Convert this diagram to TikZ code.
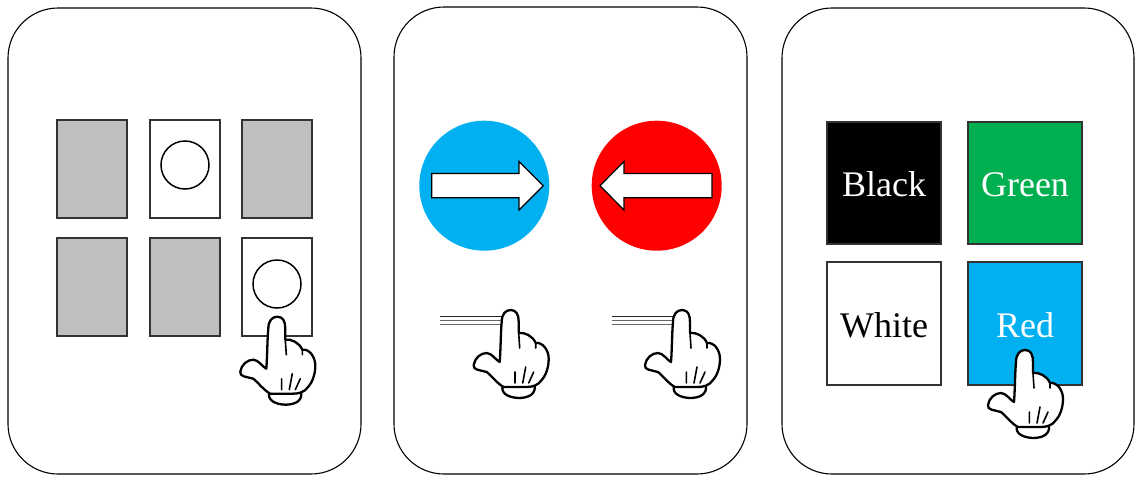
\documentclass[tikz,border=0pt]{standalone}
\usepackage{fontspec}
\setmainfont{Liberation Serif}
\definecolor{cardgray}{HTML}{BFBFBF}
\definecolor{skyb}{HTML}{00B0F0}
\definecolor{grn}{HTML}{00B050}
\tikzset{
  panel/.style={draw=black,line width=1.1pt,rounded corners=50pt,fill=white},
  cardbox/.style={draw=black!80,line width=1.2pt},
  bigdisc/.style={circle,minimum size=130pt,inner sep=0pt,fill=#1},
  ring/.style={draw=black,line width=1.5pt,fill=white,circle,minimum size=48pt,inner sep=0pt},
  blockarrow/.style={draw=black,line width=1.2pt,fill=white,line join=miter},
  swipeline/.style={draw=black!60,line width=1pt},
  word/.style={font=\fontsize{36}{38}\selectfont,text=#1,inner sep=0pt,anchor=base},
  hand/.pic={
    \path[fill=white,draw=black,line width=2.3pt,line join=round,line cap=round]
      (-9,76) .. controls (-11,83) and (-4,87.5) .. (7,88) .. controls (17,88) and (24,84) .. (23,76) -- cycle;
    \path[fill=white,draw=black,line width=2.3pt,line join=round,line cap=round]
      (-10,12) .. controls (-10,4) and (-6,0) .. (-1,0)
      .. controls (5,0) and (7,5) .. (7,12)
      -- (7,23)
      .. controls (13,22) and (21,26) .. (24,33)
      .. controls (31,32) and (37,40) .. (37,49)
      .. controls (37,59) and (33,67) .. (30,70)
      .. controls (26,76) and (20,77) .. (14,77)
      -- (-8,77)
      .. controls (-14,74) and (-20,66) .. (-25,62)
      .. controls (-32,60) and (-39,60) .. (-38,55)
      .. controls (-37,48) and (-31,43) .. (-25,43)
      .. controls (-20,43) and (-16,50) .. (-12,52)
      .. controls (-11,40) and (-11,22) .. (-10,12) -- cycle;
    \path[draw=black,line width=1.6pt,line cap=round]
      (7,23) -- (8,38) (24,33) -- (24,38)
      (3.3,62) -- (3.3,73) (14,57) -- (11,73) (22,62) -- (17,73);
  },
}
\begin{document}
\begin{tikzpicture}[x=1pt,y=-1pt]
\useasboundingbox (0,0) rectangle (1136,477);
% panels
\node[panel,minimum width=353pt,minimum height=466pt,inner sep=0pt] (p1) at (184.5,241) {};
\node[panel,minimum width=353pt,minimum height=467pt,inner sep=0pt] (p2) at (570.5,240.5) {};
\node[panel,minimum width=352pt,minimum height=466pt,inner sep=0pt] (p3) at (958,241) {};
% cards
\node[cardbox,fill=cardgray,minimum width=70pt,minimum height=98pt,inner sep=0pt] (c1) at (92,169) {};
\node[cardbox,fill=white,minimum width=70pt,minimum height=98pt,inner sep=0pt] (c2) at (185,169) {};
\node[cardbox,fill=cardgray,minimum width=70pt,minimum height=98pt,inner sep=0pt] (c3) at (277,169) {};
\node[cardbox,fill=cardgray,minimum width=70pt,minimum height=98pt,inner sep=0pt] (c4) at (92,287) {};
\node[cardbox,fill=cardgray,minimum width=70pt,minimum height=98pt,inner sep=0pt] (c5) at (185,287) {};
\node[cardbox,fill=white,minimum width=70pt,minimum height=98pt,inner sep=0pt] (c6) at (277,287) {};
\node[ring] (r1) at (185,165) {};
\node[ring] (r2) at (277,284) {};
\pic at (278.3,316.7) {hand};
% discs
\node[bigdisc=skyb] (d1) at (484.3,185.7) {};
\node[bigdisc=red] (d2) at (656.7,185.7) {};
\draw[blockarrow] (431.7,173.5) -- (519,173.5) -- (519,161.5) -- (543.3,185.7) -- (519,210) -- (519,197.7) -- (431.7,197.7) -- cycle;
\draw[blockarrow] (712,173.5) -- (624,173.5) -- (624,161.5) -- (600,185.7) -- (624,210) -- (624,197.7) -- (712,197.7) -- cycle;
% swipe lines
\coordinate (a1) at (440,316.5); \coordinate (a2) at (502,316.5);
\coordinate (a3) at (440,320.5); \coordinate (a4) at (502,320.5);
\coordinate (a5) at (440,324); \coordinate (a6) at (502,324);
\draw[swipeline,draw=black!85] (a1) -- (a2);
\draw[swipeline] (a3) -- (a4);
\draw[swipeline] (a5) -- (a6);
\coordinate (b1) at (612,316.5); \coordinate (b2) at (673,316.5);
\coordinate (b3) at (612,320.5); \coordinate (b4) at (673,320.5);
\coordinate (b5) at (612,324); \coordinate (b6) at (673,324);
\draw[swipeline,draw=black!85] (b1) -- (b2);
\draw[swipeline] (b3) -- (b4);
\draw[swipeline] (b5) -- (b6);
\pic at (511.7,310) {hand};
\pic at (683,310) {hand};
% colour squares
\node[cardbox,fill=black,minimum width=114pt,minimum height=122pt,inner sep=0pt] (s1) at (884,183) {};
\node[cardbox,fill=grn,minimum width=114pt,minimum height=122pt,inner sep=0pt] (s2) at (1025,183) {};
\node[cardbox,fill=white,minimum width=114pt,minimum height=123pt,inner sep=0pt] (s3) at (884,323.5) {};
\node[cardbox,fill=skyb,minimum width=114pt,minimum height=123pt,inner sep=0pt] (s4) at (1025,323.5) {};
\node[word=white] (t1) at (884,196.5) {Black};
\node[word=white] (t2) at (1025,196.5) {Green};
\node[word=black] (t3) at (884,337.5) {White};
\node[word=white] (t4) at (1025,337.5) {Red};
\pic at (1026,350) {hand};
\end{tikzpicture}
\end{document}
